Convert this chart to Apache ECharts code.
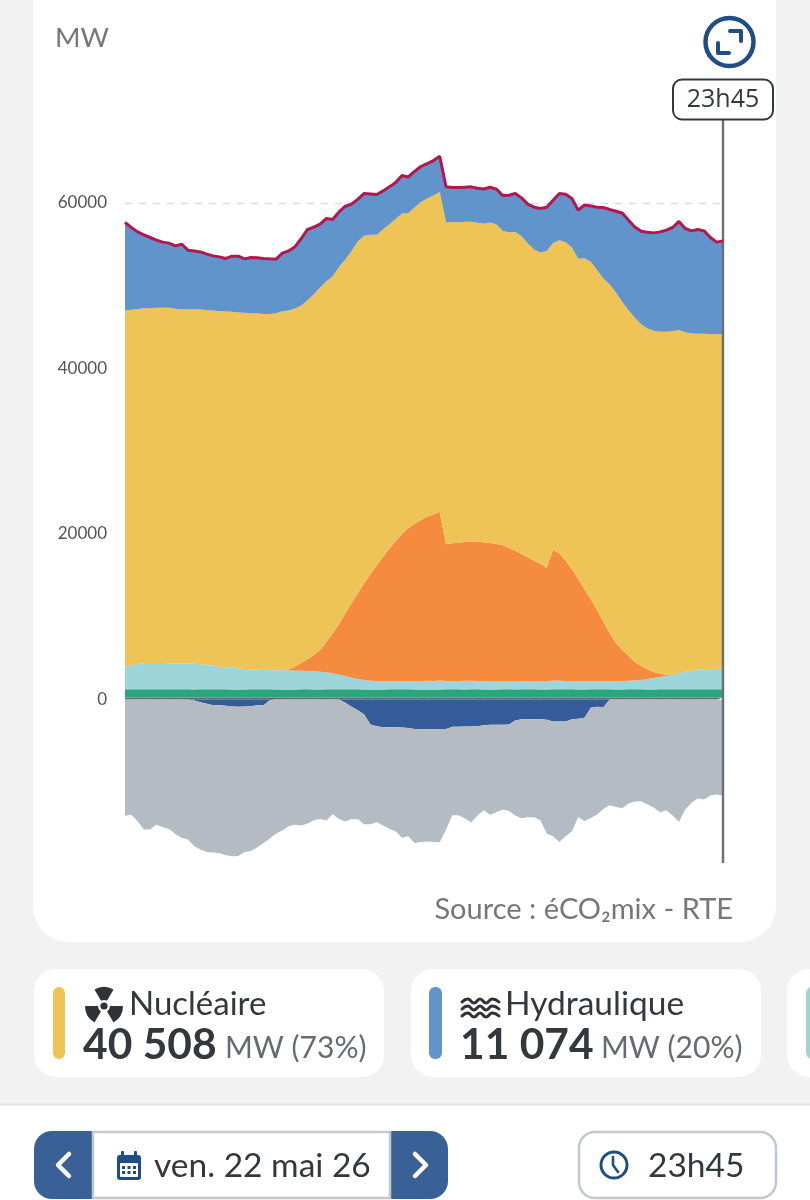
<!DOCTYPE html>
<html><head><meta charset="utf-8">
<style>html,body{margin:0;padding:0;background:#f2f2f2}#c{width:810px;height:1200px}</style>
<script src="https://cdn.jsdelivr.net/npm/echarts@6/dist/echarts.min.js"></script>
</head><body><div id="c"></div>
<script>
const times=[];for(let h=0;h<24;h++)for(const m of ['00','15','30','45'])times.push(String(h).padStart(2,'0')+'h'+m);
const yTicks=[0,20000,40000,60000];
// Total / top of hydro (MW)
const consumption=[57650,57040,56510,56150,55830,55510,55270,55150,54820,55020,54300,54210,54090,53820,53610,53490,53300,53570,53570,53250,53420,53370,53300,53250,53210,53940,54210,54700,55710,56800,57080,57440,58130,58010,58930,59610,59860,60460,61150,61100,61030,61460,61950,62480,63320,63150,63810,64410,64770,65130,65650,61950,61870,61870,61910,61950,61790,61700,61910,61670,60910,60940,61150,60620,59860,59490,59340,59490,60340,61150,61060,60540,59130,59770,59650,59490,59460,59220,59010,58800,57920,57110,56590,56470,56390,56510,56720,57040,57770,56920,56630,56800,56630,55830,55270,55420];
// Cumulative top of nuclear
const nuclearTop=[47015,47090,47170,47290,47290,47330,47330,47330,47210,47170,47140,47170,47140,47050,47015,46930,46900,46850,46770,46730,46690,46650,46600,46600,46690,46930,47015,47260,47620,48260,48980,49790,50550,51160,52280,53180,54210,55390,56030,56150,56150,56840,57440,58080,58730,58800,59460,60130,60540,60910,61340,57680,57680,57680,57720,57720,57600,57480,57650,57440,56630,56470,56510,55990,55110,54380,54020,54210,55180,55510,55270,54630,53250,53330,52890,51880,50880,50190,49140,48050,47050,46120,45360,44840,44550,44430,44430,44510,44640,44390,44240,44190,44190,44150,44150,44150];
// Cumulative top of solar
const solarTop=[3960,4130,4290,4370,4410,4410,4410,4370,4370,4320,4320,4320,4250,4170,4080,3960,3890,3810,3770,3680,3650,3600,3560,3530,3530,3560,3620,3960,4450,4860,5380,5980,6980,8000,9120,10410,11620,12830,14040,15160,16210,17250,18260,19150,19960,20680,21200,21680,22080,22370,22650,18750,18870,18940,19030,19060,19060,18990,18910,18780,18630,18340,17980,17580,17180,16770,16370,15920,18060,17660,16770,15760,14560,13310,12100,10810,9400,8000,6790,5980,5250,4530,4050,3650,3320,3120,3000,3040,3160,3360,3480,3600,3650,3680,3720,3720];
// Cumulative top of wind
const windTop=[3960,4130,4290,4370,4410,4410,4410,4370,4370,4320,4320,4320,4250,4170,4080,3960,3890,3810,3770,3680,3650,3600,3560,3530,3530,3530,3530,3480,3480,3440,3410,3360,3290,3160,3000,2840,2630,2480,2360,2270,2230,2200,2200,2200,2200,2200,2230,2230,2270,2230,2290,2240,2220,2230,2260,2280,2240,2210,2230,2240,2250,2250,2230,2220,2200,2190,2170,2180,2300,2270,2240,2220,2200,2200,2210,2210,2210,2220,2220,2230,2260,2300,2360,2480,2600,2720,2840,2980,3160,3360,3480,3600,3650,3680,3720,3720];
// Cumulative top of bioenergy
const bioTop=[1230,1230,1230,1240,1240,1230,1230,1230,1230,1230,1230,1220,1230,1230,1230,1230,1230,1220,1220,1220,1230,1230,1230,1230,1220,1220,1220,1220,1230,1230,1220,1220,1230,1230,1230,1230,1230,1230,1220,1220,1220,1220,1230,1230,1230,1230,1220,1220,1220,1220,1220,1230,1230,1230,1220,1230,1230,1220,1220,1220,1230,1230,1220,1230,1230,1230,1220,1220,1230,1230,1230,1230,1220,1220,1230,1230,1230,1230,1220,1220,1230,1230,1230,1220,1220,1230,1230,1230,1230,1230,1230,1230,1230,1230,1230,1230];
// Thin band at the base
const gas=[240,240,240,240,240,240,240,240,240,240,240,240,240,240,240,240,240,240,240,240,240,240,240,240,240,240,240,240,240,240,240,240,240,240,240,240,240,240,240,240,240,240,240,240,240,240,240,240,240,240,240,240,240,240,240,240,240,240,240,240,240,240,240,240,240,240,240,240,240,240,240,240,240,240,240,240,240,240,240,240,240,240,240,240,240,240,240,240,240,240,240,240,240,240,240,240];
// Pumping (negative)
const pumping=[0,0,0,0,0,0,0,0,0,0,0,-120,-320,-520,-690,-690,-770,-850,-890,-850,-810,-690,-690,-80,0,0,0,0,0,0,0,0,0,0,0,-400,-890,-1290,-1810,-3020,-3220,-3340,-3340,-3340,-3390,-3430,-3550,-3550,-3590,-3590,-3590,-3550,-3300,-3300,-3260,-3260,-3220,-3100,-3060,-3060,-3060,-3020,-2540,-2380,-2380,-2380,-2380,-2460,-2660,-2660,-2660,-2380,-2340,-2220,-1010,-890,-930,0,0,0,0,0,0,0,0,0,0,0,0,0,0,0,0,0,0,0];
// Cumulative bottom of exports
const exportsBottom=[-14060,-13940,-14710,-15720,-15720,-15110,-15430,-15640,-16240,-16720,-16930,-17730,-18140,-18420,-18500,-18540,-18820,-18940,-18900,-18420,-18300,-17890,-17330,-16810,-16200,-15840,-15310,-15150,-15230,-14990,-14590,-14430,-14630,-13860,-14430,-14750,-14430,-14470,-15070,-15070,-14830,-15230,-15640,-15920,-16720,-16520,-17330,-17210,-17170,-17210,-17250,-15720,-13980,-13980,-14390,-14870,-14020,-13380,-13940,-13620,-13300,-13460,-14020,-14350,-14230,-14230,-14590,-16200,-16520,-17210,-16520,-15920,-14230,-14670,-14310,-13900,-13220,-12780,-12980,-13140,-12570,-12330,-12290,-12690,-13060,-13620,-13380,-14020,-14790,-13300,-12490,-11970,-12090,-11610,-11490,-11610];

const diff=(a,b)=>a.map((v,i)=>v-b[i]);
const hydro=diff(consumption,nuclearTop), nuclear=diff(nuclearTop,solarTop), solar=diff(solarTop,windTop),
      wind=diff(windTop,bioTop), bio=diff(bioTop,gas), exportsV=diff(exportsBottom,pumping);

const area=(name,data,color,stack)=>({name,type:'line',stack:stack||'prod',data,showSymbol:false,symbol:'none',silent:true,
  lineStyle:{width:0},areaStyle:{color,opacity:1},itemStyle:{color}});

const FONT='Lato, "Noto Sans", sans-serif';
const T=(x,y,text,size,fill,weight,align,font)=>({type:'text',silent:true,x,y,z:20,style:{text,fontSize:size,fill,fontWeight:weight||'normal',align:align||'left',verticalAlign:'middle',fontFamily:font||FONT}});
const R=(x,y,w,h,r,fill,stroke,lw,z)=>({type:'rect',silent:true,z:z||1,shape:{x,y,width:w,height:h,r},style:{fill:fill||'none',stroke:stroke||'none',lineWidth:lw||0}});
const P=(points,stroke,lw,smooth)=>({type:'polyline',silent:true,z:20,shape:{points,smooth:smooth||0},style:{stroke,lineWidth:lw,fill:'none',lineCap:'round',lineJoin:'round'}});
const NAVY='#1f4e85',BTN='#3a6098',DARK='#33383c',MUTE='#666b70';
const deg=Math.PI/180;
const blade=(a)=>({type:'sector',silent:true,z:20,shape:{cx:104,cy:1006,r:19,r0:6,startAngle:(a-30)*deg,endAngle:(a+30)*deg},style:{fill:'#2f3336'}});
const wave=(y)=>P([[462,y],[468,y-3],[474,y+1],[480,y-3],[486,y+1],[492,y-3],[499,y]],'#2f3336',3,0.5);

const graphic=[
  R(33,-40,743,982,36,'#fff'),
  {type:'circle',silent:true,z:20,shape:{cx:729.5,cy:42,r:24},style:{fill:'#fff',stroke:NAVY,lineWidth:4.5}},
  P([[730,31],[741,31],[741,41]],NAVY,4),
  P([[718,43],[718,53],[729,53]],NAVY,4),
  R(673,79.5,100,40,9,'#fff','#33383c',2,20),
  T(723,99.5,'23h45',25,DARK,'normal','center','"Open Sans", sans-serif'),
  T(55,38,'MW',27.5,'#777','normal','left'),
  T(733,910,'Source : éCO₂mix - RTE',29,'#777','normal','right'),
  R(34,969,350,108,22,'#fff'),
  R(53,987,12,72,6,'#edc455'),
  blade(-90),blade(30),blade(150),
  {type:'circle',silent:true,z:20,shape:{cx:104,cy:1006,r:3.6},style:{fill:'#2f3336'}},
  T(129,1004,'Nucléaire',33,DARK),
  T(83,1045,'40 508',42.5,DARK,'bold'),
  T(225,1048,'MW (73%)',30,MUTE),
  R(411,969,350,108,22,'#fff'),
  R(429,987,13,72,6,'#6294cc'),
  wave(1002),wave(1009),wave(1016),
  T(505,1004,'Hydraulique',33.5,DARK),
  T(460,1045,'11 074',42.5,DARK,'bold'),
  T(601,1048,'MW (20%)',30,MUTE),
  R(787,969,60,108,22,'#fff'),
  R(806,987,12,72,6,'#9cd6da'),
  R(0,1105,810,95,0,'#fff'),
  R(0,1103.5,810,2,0,'#e2e3e4'),
  R(34,1131,414,68,18,BTN),
  R(93,1132,297,66,0,'#fff','#c4c8cc',2.5,2),
  P([[69,1154],[58,1165],[69,1176]],'#fff',4.5),
  P([[415,1154],[426,1165],[415,1176]],'#fff',4.5),
  R(117,1155,24,25,3,NAVY,null,0,20),
  R(120,1163,18,14,1,'#fff',null,0,21),
  R(121,1151,3,6,1,NAVY,null,0,20),
  R(134,1151,3,6,1,NAVY,null,0,20),
  R(122,1166,3,3,0,NAVY,null,0,22),R(127.5,1166,3,3,0,NAVY,null,0,22),R(133,1166,3,3,0,NAVY,null,0,22),
  R(122,1171,3,3,0,NAVY,null,0,22),R(127.5,1171,3,3,0,NAVY,null,0,22),R(133,1171,3,3,0,NAVY,null,0,22),
  T(154,1166,'ven. 22 mai 26',33.5,DARK),
  R(579,1132,197,66,16,'#fff','#c4c8cc',2.5,2),
  {type:'circle',silent:true,z:20,shape:{cx:614,cy:1165,r:13},style:{fill:'#fff',stroke:NAVY,lineWidth:3}},
  P([[613,1157],[613,1165],[618,1172]],NAVY,2.6),
  T(648,1166,'23h45',33.5,DARK)
];

const chart=echarts.init(document.getElementById('c'),null,{renderer:'canvas',width:810,height:1200});
chart.setOption({
  animation:false,
  backgroundColor:'#f2f2f2',
  graphic:{elements:graphic},
  grid:{left:125,width:598,top:37.5,height:827.5,containLabel:false},
  xAxis:{type:'category',data:times,boundaryGap:false,z:1.5,axisLine:{show:false},axisTick:{show:false},axisLabel:{show:false},splitLine:{show:false}},
  yAxis:{type:'value',min:-20000,max:80000,interval:20000,z:1.5,
    axisLine:{show:false},axisTick:{show:false},
    axisLabel:{show:true,showMinLabel:false,showMaxLabel:false,margin:18,fontSize:17,color:'#555',fontFamily:FONT,
      formatter:v=>yTicks.includes(v)?String(v):''},
    splitLine:{show:true,showMinLine:false,showMaxLine:false,lineStyle:{type:[7,7],color:'#dcdcdc',width:1.3}}},
  series:[
    area('Gaz',gas,'#5f6b70'),
    area('Bioénergies',bio,'#2aa57e'),
    area('Éolien',wind,'#9cd6da'),
    area('Solaire',solar,'#f58b3f'),
    area('Nucléaire',nuclear,'#edc455'),
    area('Hydraulique',hydro,'#6294cc'),
    area('Pompage',pumping,'#345c98','conso'),
    area('Exports',exportsV,'#b5bbc2','conso'),
    {name:'Consommation',type:'line',data:consumption,showSymbol:false,symbol:'none',silent:true,z:6,
      lineStyle:{color:'#b5164e',width:3},
      markLine:{silent:true,symbol:'none',label:{show:false},animation:false,
        lineStyle:{color:'#6b6f73',width:2.4,type:'solid'},
        data:[[{xAxis:times[95],y:120},{xAxis:times[95],y:863}]]}}
  ]
});
</script></body></html>
